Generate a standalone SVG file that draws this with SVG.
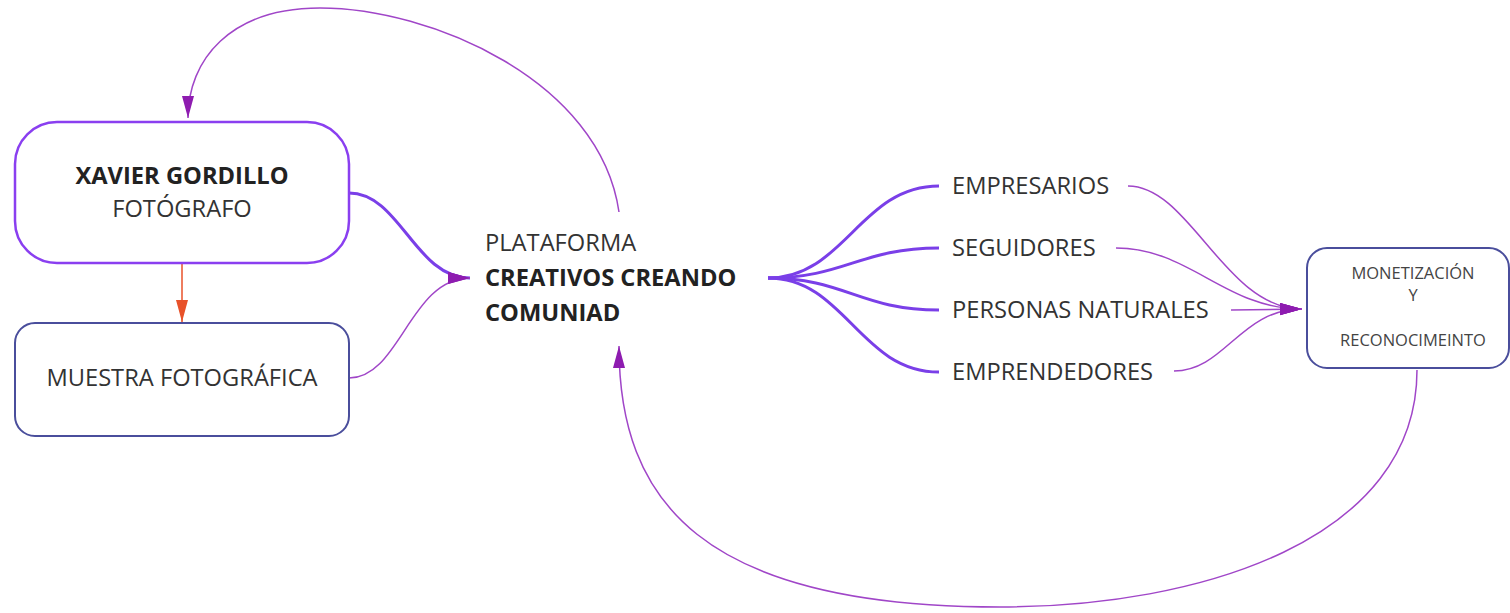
<svg xmlns="http://www.w3.org/2000/svg" width="1510" height="613" viewBox="0 0 1510 613">
<style>
text{font-family:"Open Sans","Liberation Sans",sans-serif;fill:#333;}
.t{font-size:23.7px;}
.b{font-weight:bold;fill:#222;}
.s{font-size:16.5px;fill:#444;}
.box1{fill:#fff;stroke:#8a3ff0;stroke-width:2.5;}
.box2{fill:#fff;stroke:#4a4e9c;stroke-width:2;}
.thick{fill:none;stroke:#7a3fe8;stroke-width:3;}
.thin{fill:none;stroke:#a046c8;stroke-width:1.5;}
.or{fill:none;stroke:#e8522a;stroke-width:1.5;}
</style>
<defs>
<marker id="ap" markerUnits="userSpaceOnUse" markerWidth="24" markerHeight="14" refX="22" refY="6" orient="auto"><path d="M0,0 L22,6 L0,12 z" fill="#8e1cb0"/></marker>
<marker id="ao" markerUnits="userSpaceOnUse" markerWidth="24" markerHeight="14" refX="22" refY="6" orient="auto"><path d="M0,0 L22,6 L0,12 z" fill="#e8522a"/></marker>
</defs>
<rect width="1510" height="613" fill="#fff"/>
<g id="connectors">
<path class="or" d="M182,264 L182,322" marker-end="url(#ao)"/>
<path class="thick" d="M349,193 C400,193 415,278 470,278" marker-end="url(#ap)"/>
<path class="thin" d="M349,378 C400,378 410,278 470,278" marker-end="url(#ap)"/>
<path class="thin" d="M619,212 C600,80 430,8 320,8 C230,8 188,60 188,118" marker-end="url(#ap)"/>
<path class="thin" d="M1417,370 C1417,540 1200,607 1000,607 C700,607 619,500 619,346" marker-end="url(#ap)"/>
<path class="thick" d="M768,278 C845,278 860,186 939,186"/>
<path class="thick" d="M768,278 C845,278 860,248 939,248"/>
<path class="thick" d="M768,278 C845,278 860,310 939,310"/>
<path class="thick" d="M768,278 C845,278 860,372 939,372"/>
<path class="thin" d="M1128,186 C1190,186 1225,309 1302,309" marker-end="url(#ap)"/>
<path class="thin" d="M1116,248 C1190,248 1225,309 1302,309" marker-end="url(#ap)"/>
<path class="thin" d="M1231,310 L1302,309" marker-end="url(#ap)"/>
<path class="thin" d="M1174,371 C1225,371 1240,309 1302,309" marker-end="url(#ap)"/>
</g>
<g id="xavier">
<rect class="box1" x="15" y="122" width="334" height="141" rx="42"/>
<text class="t b" x="182" y="184" text-anchor="middle">XAVIER GORDILLO</text>
<text class="t" x="182" y="217" text-anchor="middle">FOTÓGRAFO</text>
</g>
<g id="muestra">
<rect class="box2" x="15" y="323" width="334" height="113" rx="20"/>
<text class="t" x="182" y="386" text-anchor="middle">MUESTRA FOTOGRÁFICA</text>
</g>
<g id="plataforma">
<text class="t" x="485" y="251">PLATAFORMA</text>
<text class="t b" x="485" y="286">CREATIVOS CREANDO</text>
<text class="t b" x="485" y="321">COMUNIAD</text>
</g>
<g id="empresarios"><text class="t" x="952" y="194">EMPRESARIOS</text></g>
<g id="seguidores"><text class="t" x="952" y="256">SEGUIDORES</text></g>
<g id="personas"><text class="t" x="952" y="318">PERSONAS NATURALES</text></g>
<g id="emprendedores"><text class="t" x="952" y="380">EMPRENDEDORES</text></g>
<g id="monetizacion">
<rect class="box2" x="1307" y="248" width="202" height="120" rx="20"/>
<text class="s" x="1413" y="279" text-anchor="middle">MONETIZACIÓN</text>
<text class="s" x="1413" y="301" text-anchor="middle">Y</text>
<text class="s" x="1413" y="346" text-anchor="middle">RECONOCIMEINTO</text>
</g>
</svg>
